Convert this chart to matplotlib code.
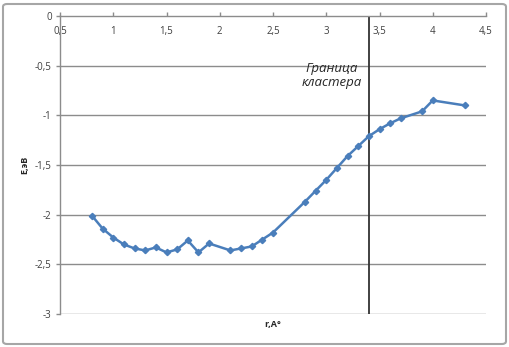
import matplotlib
matplotlib.use("Agg")
import matplotlib.pyplot as plt
from matplotlib.patches import FancyBboxPatch

r_vals = [0.8, 0.9, 1.0, 1.1, 1.2, 1.3, 1.4, 1.5, 1.6, 1.7, 1.8, 1.9,
          2.1, 2.2, 2.3, 2.4, 2.5, 2.8, 2.9, 3.0, 3.1, 3.2, 3.3, 3.4,
          3.5, 3.6, 3.7, 3.9, 4.0, 4.3]
e_vals = [-2.01, -2.14, -2.23, -2.30, -2.34, -2.36, -2.33, -2.38, -2.35, -2.26, -2.38, -2.29,
          -2.36, -2.34, -2.32, -2.25, -2.18, -1.87, -1.76, -1.65, -1.53, -1.41, -1.31, -1.21,
          -1.14, -1.08, -1.03, -0.96, -0.85, -0.90]
x_ticks = [0.5, 1, 1.5, 2, 2.5, 3, 3.5, 4, 4.5]
x_tick_labels = ["0,5", "1", "1,5", "2", "2,5", "3", "3,5", "4", "4,5"]
y_ticks = [0, -0.5, -1, -1.5, -2, -2.5, -3]
y_tick_labels = ["0", "-0,5", "-1", "-1,5", "-2", "-2,5", "-3"]
boundary_r = 3.4
boundary_label = "Граница\nкластера"
x_label = "r,A°"
y_label = "E,эВ"

plt.rcParams['font.family'] = ['Open Sans', 'DejaVu Sans']

W, H = 510, 347
fig = plt.figure(figsize=(W / 100, H / 100), dpi=100)
fig.patch.set_facecolor("white")

# outer frame
frame = FancyBboxPatch((3 / W, 3 / H), (W - 7) / W, (H - 7) / H,
                       boxstyle="round,pad=0,rounding_size=0.008",
                       transform=fig.transFigure, facecolor="none",
                       edgecolor="#a6a6a6", linewidth=1.5, zorder=-1)
fig.patches.append(frame)

ax = fig.add_axes([60 / W, 1 - 314 / H, 426 / W, 298 / H])
ax.set_facecolor("none")
ax.set_xlim(0.5, 4.5)
ax.set_ylim(-3, 0)

grid_c = "#8c8c8c"
for yv in y_ticks[1:]:
    ax.axhline(yv, color=grid_c, linewidth=1.0, zorder=1)

for s in ["right", "bottom"]:
    ax.spines[s].set_visible(False)
for s in ["left", "top"]:
    ax.spines[s].set_color(grid_c)
    ax.spines[s].set_linewidth(1.0)

ax.set_xticks(x_ticks)
ax.set_xticklabels(x_tick_labels)
ax.set_yticks(y_ticks)
ax.set_yticklabels(y_tick_labels)
ax.tick_params(axis="x", which="major", top=True, bottom=False, labeltop=True,
               labelbottom=False, direction="out", length=3, width=1,
               color=grid_c, pad=-18, labelsize=7, labelcolor="#404040")
ax.tick_params(axis="y", which="major", left=True, direction="out", length=3,
               width=1, color=grid_c, pad=3, labelsize=7, labelcolor="#404040")

ax.axvline(boundary_r, color="#333333", linewidth=1.3, zorder=2)

ax.plot(r_vals, e_vals, color="#4a7ebb", linewidth=1.8, marker="D",
        markersize=3.2, markerfacecolor="#4a7ebb", markeredgecolor="#4a7ebb",
        zorder=3)

ax.text(3.05, -0.6, boundary_label, fontsize=9.5, style="italic",
        ha="center", va="center", color="#262626", linespacing=1.1)

ax.set_xlabel(x_label, fontsize=6.5, fontweight="bold", color="#262626", labelpad=4)
ax.set_ylabel(y_label, fontsize=6.5, fontweight="bold", color="#262626", labelpad=4)

fig.savefig("out.png", dpi=100, facecolor="white")
